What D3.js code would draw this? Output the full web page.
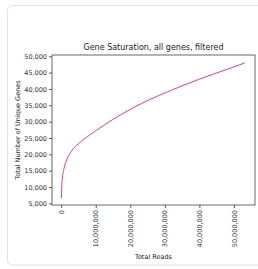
<!DOCTYPE html>
<html>
<head>
<meta charset="utf-8">
<script src="https://cdn.jsdelivr.net/npm/d3@7"></script>
<style>
  body { margin: 0; background: #fff; }
  svg { display: block; font-family: "DejaVu Sans", sans-serif; }
</style>
</head>
<body>
<svg id="chart" width="258" height="269"></svg>
<script>
// Gene saturation curve
const readsM = [0.05, 0.15, 0.3, 0.75, 1.6, 3.2, 5.5, 9.7, 14.7, 20.9, 30.5, 40, 49.6, 53.2];
const genes = [6600, 10000, 12400, 15400, 18300, 21300, 23700, 27000, 30500, 34300, 39000, 43000, 46600, 48000];
const xTicks = [0, 10000000, 20000000, 30000000, 40000000, 50000000];
const yTicks = [5000, 10000, 15000, 20000, 25000, 30000, 35000, 40000, 45000, 50000];

const data = readsM.map((r, i) => ({ reads: r * 1e6, genes: genes[i] }));

const svg = d3.select("#chart");
const margin = { top: 55, right: 3, bottom: 64, left: 52 };
const width = 258, height = 269;
const innerWidth = width - margin.left - margin.right;
const innerHeight = height - margin.top - margin.bottom;

// card border: open on the right, it runs past the window edge in the reference
const cardPath = d3.path();
cardPath.moveTo(width, 5.5);
cardPath.lineTo(12.5, 5.5);
cardPath.arcTo(7.5, 5.5, 7.5, 10.5, 5);
cardPath.lineTo(7.5, 260);
cardPath.arcTo(7.5, 265, 12.5, 265, 5);
cardPath.lineTo(width, 265);
svg.append("path")
  .attr("d", cardPath.toString())
  .attr("fill", "none")
  .attr("stroke", "#e2e2e2");

const x = d3.scaleLinear()
  .domain([-2.67e6, 56.1e6])
  .range([0, innerWidth]);

const y = d3.scaleLinear()
  .domain([4515, 50385])
  .range([innerHeight, 0]);

const chart = svg.append("g")
  .attr("transform", `translate(${margin.left},${margin.top})`);

const fmt = d3.format(",");

// axes
const xAxis = chart.append("g")
  .attr("transform", `translate(0,${innerHeight})`)
  .call(d3.axisBottom(x).tickValues(xTicks).tickFormat(fmt).tickSize(3).tickPadding(2));
xAxis.selectAll("text")
  .attr("transform", "rotate(-90)")
  .attr("text-anchor", "end")
  .attr("dy", "0.32em")
  .attr("x", -5)
  .attr("y", 0);

const yAxis = chart.append("g")
  .call(d3.axisLeft(y).tickValues(yTicks).tickFormat(fmt).tickSize(3).tickPadding(2));

[xAxis, yAxis].forEach(a => {
  a.select(".domain").remove();
  a.selectAll("line").attr("stroke", "#333").attr("stroke-width", 0.8);
  a.selectAll("text").attr("fill", "#333").attr("font-size", 6.5).attr("font-family", "DejaVu Sans");
});

// frame
chart.append("rect")
  .attr("width", innerWidth)
  .attr("height", innerHeight)
  .attr("fill", "none")
  .attr("stroke", "#444")
  .attr("stroke-width", 0.8);

// curve
chart.append("path")
  .datum(data)
  .attr("fill", "none")
  .attr("stroke", "#e8399e")
  .attr("stroke-width", 1)
  .attr("d", d3.line()
    .x(d => x(d.reads))
    .y(d => y(d.genes))
    .curve(d3.curveMonotoneX));

// title + labels
svg.append("text")
  .attr("x", margin.left + innerWidth / 2)
  .attr("y", 50)
  .attr("text-anchor", "middle")
  .attr("font-size", 8)
  .attr("fill", "#222")
  .text("Gene Saturation, all genes, filtered");

svg.append("text")
  .attr("x", margin.left + innerWidth / 2)
  .attr("y", 259)
  .attr("text-anchor", "middle")
  .attr("font-size", 6.5)
  .attr("fill", "#222")
  .text("Total Reads");

svg.append("text")
  .attr("transform", "rotate(-90)")
  .attr("x", -(margin.top + innerHeight / 2))
  .attr("y", 20)
  .attr("text-anchor", "middle")
  .attr("font-size", 6.5)
  .attr("fill", "#222")
  .text("Total Number of Unique Genes");
</script>
</body>
</html>
